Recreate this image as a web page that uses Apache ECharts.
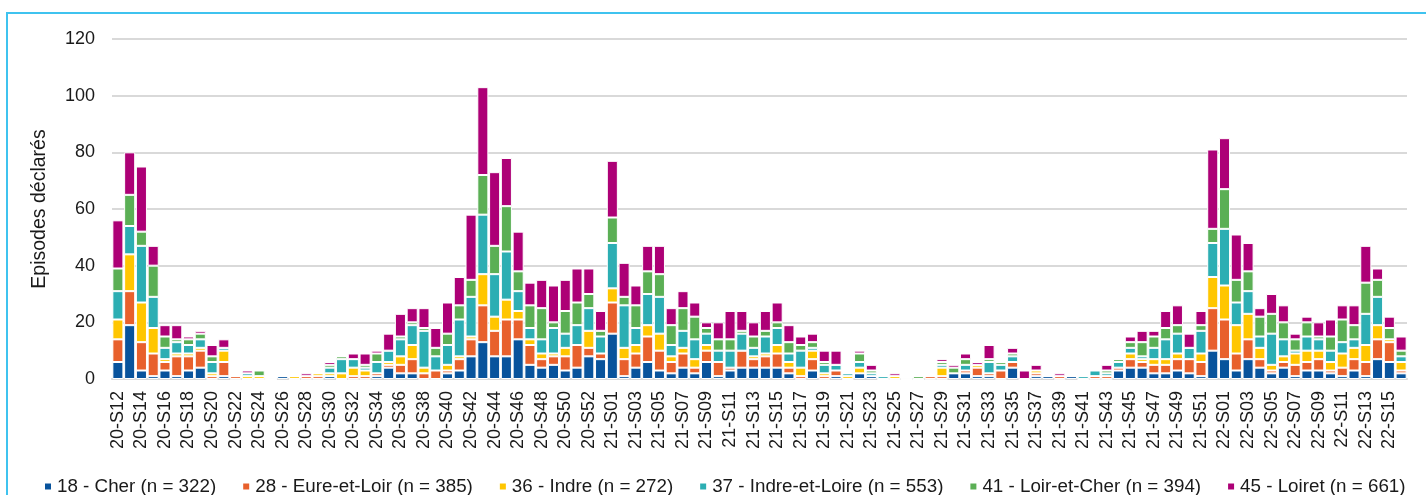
<!DOCTYPE html>
<html>
<head>
<meta charset="utf-8">
<title>Episodes déclarés par semaine - Centre-Val de Loire</title>
<script src="https://cdn.jsdelivr.net/npm/echarts@6/dist/echarts.min.js"></script>
<style>
  html, body { margin: 0; padding: 0; background: #fff; overflow: hidden; }
  .frame {
    position: absolute; left: 6px; top: 12px; width: 1440px; height: 520px;
    border-top: 2px solid #3fc3ef; border-left: 2px solid #3fc3ef;
  }
  #chart { position: absolute; left: 0; top: 0; width: 1426px; height: 495px; }
</style>
</head>
<body>
<div class="frame"></div>
<div id="chart"></div>
<script>
// semaines : 20-S12 .. 20-S53, 21-S01 .. 21-S52, 22-S01 .. 22-S16
const weekRanges = [
  ["20", 12, 53],
  ["21", 1, 52],
  ["22", 1, 16],
];
const weeks = [];
weekRanges.forEach(([yy, from, to]) => {
  for (let w = from; w <= to; w++) {
    weeks.push(yy + "-S" + String(w).padStart(2, "0"));
  }
});

const yTicks = [0, 20, 40, 60, 80, 100, 120];

const cher = [
  6, 19, 3, 1, 3, 1, 3, 4, 0, 1,
  0, 0, 0, 0, 1, 0, 0, 0, 1, 0,
  0, 0, 1, 4, 2, 2, 0, 0, 2, 3,
  8, 13, 8, 8, 14, 5, 4, 5, 3, 4,
  8, 7, 16, 1, 4, 6, 3, 2, 4, 2,
  6, 1, 3, 4, 4, 4, 4, 2, 0, 3,
  0, 1, 0, 2, 1, 0, 0, 0, 0, 0,
  0, 2, 2, 1, 1, 0, 4, 0, 1, 1,
  0, 1, 0, 0, 0, 3, 4, 4, 2, 2,
  3, 2, 1, 10, 7, 3, 7, 4, 2, 4,
  1, 3, 3, 2, 1, 3, 1, 7, 6, 2,
];
const eureEtLoir = [
  8, 12, 10, 8, 3, 7, 5, 6, 1, 5,
  1, 0, 0, 0, 0, 0, 1, 1, 0, 0,
  1, 1, 1, 1, 3, 5, 2, 3, 1, 4,
  6, 13, 9, 13, 7, 7, 3, 3, 5, 8,
  3, 2, 11, 6, 5, 9, 7, 4, 5, 2,
  4, 5, 1, 6, 3, 4, 5, 2, 1, 4,
  1, 2, 0, 0, 0, 0, 0, 0, 0, 1,
  1, 0, 1, 3, 1, 3, 2, 0, 1, 0,
  1, 0, 0, 1, 1, 1, 3, 2, 3, 3,
  4, 5, 5, 15, 14, 6, 7, 3, 1, 2,
  4, 3, 4, 1, 3, 4, 5, 7, 7, 1,
];
const indre = [
  7, 13, 14, 9, 1, 1, 1, 1, 1, 4,
  0, 1, 1, 0, 0, 1, 0, 1, 1, 2,
  3, 2, 0, 1, 3, 5, 2, 0, 2, 1,
  1, 11, 5, 7, 3, 2, 2, 1, 3, 0,
  6, 0, 5, 4, 3, 4, 6, 2, 2, 3,
  2, 0, 0, 0, 1, 1, 3, 2, 3, 3,
  1, 0, 1, 2, 0, 0, 1, 0, 0, 0,
  3, 0, 0, 1, 0, 0, 0, 0, 1, 0,
  0, 0, 0, 0, 0, 0, 2, 1, 2, 2,
  2, 0, 3, 11, 12, 10, 9, 4, 2, 2,
  4, 4, 3, 3, 5, 4, 6, 5, 1, 3,
];
const indreEtLoire = [
  10, 10, 20, 11, 4, 4, 3, 3, 4, 1,
  0, 1, 0, 0, 0, 0, 0, 0, 2, 5,
  3, 1, 4, 4, 6, 7, 13, 5, 7, 13,
  14, 21, 15, 17, 7, 4, 5, 9, 5, 7,
  8, 6, 16, 15, 6, 11, 13, 4, 6, 7,
  4, 4, 6, 6, 3, 6, 6, 3, 6, 1,
  3, 2, 1, 2, 1, 1, 0, 0, 0, 0,
  1, 0, 2, 0, 4, 2, 2, 0, 0, 0,
  0, 0, 1, 2, 1, 2, 2, 1, 4, 7,
  7, 4, 8, 12, 20, 8, 8, 4, 11, 6,
  1, 5, 4, 4, 4, 3, 11, 10, 0, 2,
];
const loirEtCher = [
  8, 11, 5, 11, 4, 1, 2, 2, 2, 0,
  0, 0, 2, 0, 0, 0, 0, 0, 1, 1,
  0, 1, 3, 0, 1, 1, 1, 3, 4, 5,
  6, 14, 10, 16, 7, 8, 11, 2, 8, 8,
  5, 2, 9, 3, 8, 8, 8, 7, 8, 8,
  2, 4, 4, 1, 4, 2, 2, 4, 2, 2,
  1, 0, 0, 3, 1, 0, 0, 0, 1, 0,
  1, 2, 2, 0, 1, 1, 1, 0, 0, 0,
  0, 0, 0, 0, 1, 1, 2, 5, 4, 4,
  3, 0, 2, 5, 14, 8, 7, 7, 7, 6,
  4, 5, 1, 5, 8, 5, 11, 6, 4, 2,
];
const loiret = [
  17, 15, 23, 7, 4, 5, 1, 1, 4, 3,
  0, 1, 0, 0, 0, 0, 1, 0, 1, 0,
  2, 4, 1, 6, 8, 5, 7, 7, 11, 10,
  23, 31, 26, 17, 14, 8, 10, 13, 11, 12,
  9, 7, 20, 12, 7, 9, 10, 6, 6, 5,
  2, 6, 10, 7, 5, 7, 7, 6, 3, 3,
  4, 5, 0, 1, 2, 0, 1, 0, 0, 0,
  1, 1, 2, 1, 5, 0, 2, 3, 2, 0,
  1, 0, 0, 0, 2, 0, 2, 4, 2, 6,
  7, 5, 5, 28, 18, 16, 10, 3, 7, 6,
  2, 2, 5, 6, 5, 7, 13, 4, 4, 5,
];

const seriesNames = [
  "18 - Cher (n = 322)",
  "28 - Eure-et-Loir (n = 385)",
  "36 - Indre (n = 272)",
  "37 - Indre-et-Loire (n = 553)",
  "41 - Loir-et-Cher (n = 394)",
  "45 - Loiret (n = 661)",
];
const seriesValues = [cher, eureEtLoir, indre, indreEtLoire, loirEtCher, loiret];
const colors = ["#08539c", "#e8602c", "#ffc600", "#2caeb3", "#5baf55", "#ad0076"];

const font = "'Liberation Sans', Arial, sans-serif";
const chart = echarts.init(document.getElementById("chart"));

const option = {
  animation: false,
  textStyle: { fontFamily: font },
  color: colors,
  grid: { left: 112, right: 19, top: 39, bottom: 116 },
  legend: {
    data: seriesNames,
    top: 472,
    left: 38,
    icon: "rect",
    itemWidth: 8,
    itemHeight: 8,
    itemGap: 25,
    textStyle: { fontSize: 18.8, color: "#1a1a1a", fontFamily: font },
  },
  xAxis: {
    type: "category",
    data: weeks,
    axisLine: { lineStyle: { color: "#d9d9d9", width: 2 } },
    axisTick: { show: false },
    axisLabel: {
      interval: 1,
      rotate: 90,
      fontSize: 18,
      color: "#1a1a1a",
      margin: 12,
    },
  },
  yAxis: {
    type: "value",
    min: yTicks[0],
    max: yTicks[yTicks.length - 1],
    interval: yTicks[1] - yTicks[0],
    name: "Episodes déclarés",
    nameLocation: "middle",
    nameGap: 62,
    nameTextStyle: { fontSize: 19.5, color: "#1a1a1a" },
    axisLine: { show: false },
    axisTick: { show: false },
    axisLabel: { fontSize: 18, color: "#1a1a1a", margin: 17 },
    splitLine: { lineStyle: { color: "#d9d9d9", width: 2 } },
  },
  series: seriesNames.map((name, i) => ({
    name: name,
    type: "bar",
    stack: "total",
    barCategoryGap: "6%",
    itemStyle: { borderColor: "#fff", borderWidth: 1 },
    data: seriesValues[i],
  })),
};

chart.setOption(option);
</script>
</body>
</html>
